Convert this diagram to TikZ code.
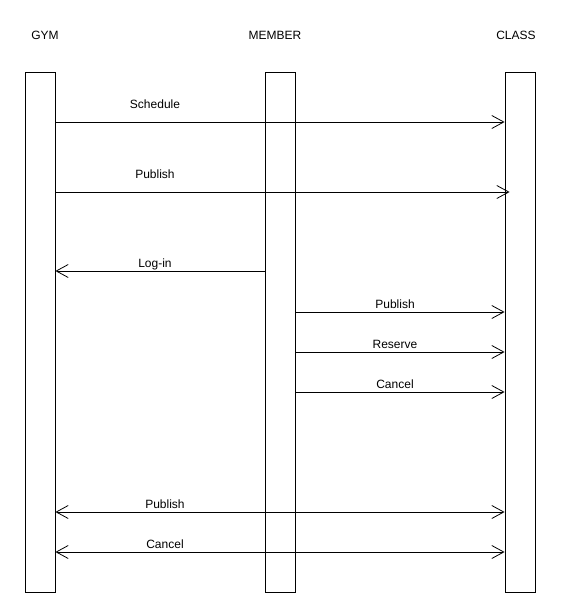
\documentclass[tikz,border=0pt]{standalone}
\usepackage{fontspec}
\setmainfont{Liberation Sans}
\usetikzlibrary{arrows.meta}
\tikzset{font=\fontsize{12}{14}\selectfont}
\tikzset{bar/.style={draw,line width=0.8pt,inner sep=0pt,minimum width=30pt,minimum height=520pt}}
\tikzset{msg/.style={line width=0.8pt,-{Straight Barb[length=12pt,width=13pt]}}}
\tikzset{both/.style={line width=0.8pt,{Straight Barb[length=12pt,width=13pt]}-{Straight Barb[length=12pt,width=13pt]}}}

\begin{document}
\begin{tikzpicture}[x=1pt,y=-1pt]
  \useasboundingbox (0,0) rectangle (566,613);
  \node[bar] (gym) at (40,332) {};
  \node[bar] (member) at (280,332) {};
  \node[bar] (class) at (520,332) {};
  \node (gymlbl) at (45,35) {GYM};
  \node (memberlbl) at (275,35) {MEMBER};
  \node (classlbl) at (516,35) {CLASS};
% gym to class
  \draw[msg] (gym.east |- 0,122) -- (class.west |- 0,122);
  \node at (155,104) {Schedule};
  \draw[msg,shorten >=-5pt] (gym.east |- 0,192) -- (class.west |- 0,192);
  \node at (155,174) {Publish};
% member to gym
  \draw[msg] (member.west |- 0,271) -- (gym.east |- 0,271);
  \node at (155,264) {Log-in};
% member to class
  \foreach \y/\t in {312/Publish, 352/Reserve, 392/Cancel}{
    \draw[msg] (member.east |- 0,\y) -- (class.west |- 0,\y);
    \node at (395,\y-8) {\t};
  };
% both ways
  \foreach \y/\t in {512/Publish, 552/Cancel}{
    \draw[both] (gym.east |- 0,\y) -- (class.west |- 0,\y);
    \node at (165,\y-8) {\t};
  };
\end{tikzpicture}
\end{document}
